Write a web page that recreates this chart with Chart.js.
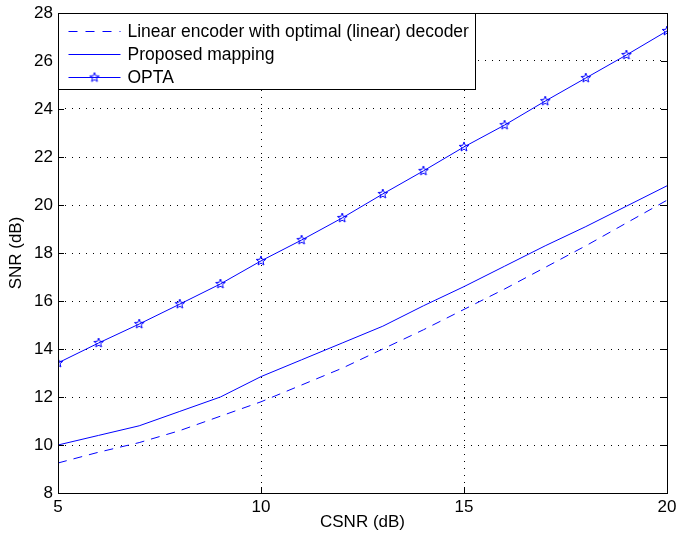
<!DOCTYPE html>
<html>
<head>
<meta charset="utf-8">
<script src="https://cdn.jsdelivr.net/npm/chart.js@4/dist/chart.umd.min.js"></script>
<style>
  html, body { margin: 0; padding: 0; background: #fff; }
  #wrap { width: 677px; height: 539px; }
</style>
</head>
<body>
<div id="wrap"><canvas id="snrChart" width="677" height="539"></canvas></div>
<script>
// values
var csnr = [5, 6, 7, 8, 9, 10, 11, 12, 13, 14, 15, 16, 17, 18, 19, 20];
var linearSnr = [9.25, 9.7, 10.1, 10.6, 11.2, 11.8, 12.5, 13.2, 14.0, 14.8, 15.65, 16.5, 17.4, 18.3, 19.25, 20.2];
var proposedSnr = [10.0, 10.4, 10.8, 11.4, 12.0, 12.85, 13.55, 14.25, 14.95, 15.8, 16.6, 17.45, 18.3, 19.1, 19.95, 20.8];
var optaSnr = [13.42, 14.25, 15.04, 15.87, 16.71, 17.67, 18.54, 19.46, 20.46, 21.42, 22.42, 23.33, 24.33, 25.29, 26.25, 27.25];
var seriesNames = ['Linear encoder with optimal (linear) decoder', 'Proposed mapping', 'OPTA'];
var xTicks = [5, 10, 15, 20];
var yTicks = [8, 10, 12, 14, 16, 18, 20, 22, 24, 26, 28];

var FONT = '"Liberation Sans", Arial, Helvetica, sans-serif';
var BLUE = '#0000ff';

// matlab style pentagram marker
function makeStar(r) {
	var c = document.createElement('canvas');
	var s = Math.ceil(r * 2 + 4);
	c.width = s; c.height = s;
	var g = c.getContext('2d');
	g.strokeStyle = BLUE;
	g.lineWidth = 1;
	g.beginPath();
	for (var i = 0; i < 10; i++) {
		var rr = (i % 2 === 0) ? r : r * 0.42;
		var a = -Math.PI / 2 + i * Math.PI / 5;
		var px = s / 2 + rr * Math.cos(a), py = s / 2 + rr * Math.sin(a);
		if (i === 0) g.moveTo(px, py); else g.lineTo(px, py);
	}
	g.closePath();
	g.stroke();
	return c;
}
var star = makeStar(5);

function pts(ys) {
	return csnr.map(function (x, i) { return {x: x, y: ys[i]}; });
}

var frame = {
	id: 'frame',
	afterDraw: function (chart) {
		var ctx = chart.ctx, a = chart.chartArea;
		var xs = chart.scales.x, ys = chart.scales.y;
		ctx.save();
		ctx.strokeStyle = '#000';
		ctx.lineWidth = 1;
		ctx.setLineDash([]);
		// inward ticks
		ctx.beginPath();
		xTicks.forEach(function (v) {
			var px = Math.round(xs.getPixelForValue(v)) + 0.5;
			ctx.moveTo(px, a.bottom); ctx.lineTo(px, a.bottom - 6);
			ctx.moveTo(px, a.top); ctx.lineTo(px, a.top + 6);
		});
		yTicks.forEach(function (v) {
			var py = Math.round(ys.getPixelForValue(v)) + 0.5;
			ctx.moveTo(a.left, py); ctx.lineTo(a.left + 6, py);
			ctx.moveTo(a.right, py); ctx.lineTo(a.right - 6, py);
		});
		ctx.stroke();
		ctx.strokeRect(Math.round(a.left) + 0.5, Math.round(a.top) + 0.5, Math.round(a.right - a.left), Math.round(a.bottom - a.top));

		// legend box, top left inside the axes
		var bx = Math.round(a.left) + 0.5, by = Math.round(a.top) + 0.5, bw = 417, bh = 76;
		ctx.fillStyle = '#fff';
		ctx.fillRect(bx, by, bw, bh);
		ctx.strokeRect(bx, by, bw, bh);
		var rows = [by + 18, by + 41, by + 64];
		ctx.font = '17.5px ' + FONT;
		ctx.textBaseline = 'middle';
		for (var i = 0; i < 3; i++) {
			ctx.strokeStyle = BLUE;
			ctx.setLineDash(i === 0 ? [9, 8] : []);
			ctx.beginPath();
			ctx.moveTo(bx + 10, rows[i]); ctx.lineTo(bx + 62, rows[i]);
			ctx.stroke();
			ctx.fillStyle = '#000';
			ctx.fillText(seriesNames[i], bx + 69, rows[i] + 1);
		}
		ctx.setLineDash([]);
		ctx.drawImage(star, bx + 36 - star.width / 2, rows[2] - star.height / 2);
		ctx.restore();
	}
};

var ctx = document.getElementById('snrChart').getContext('2d');
var snrChart = new Chart(ctx, {
	type: 'line',
	data: {
		datasets: [{
			label: seriesNames[0],
			data: pts(linearSnr),
			borderColor: BLUE,
			borderWidth: 1,
			borderDash: [9, 7],
			pointRadius: 0,
			fill: false
		}, {
			label: seriesNames[1],
			data: pts(proposedSnr),
			borderColor: BLUE,
			borderWidth: 1,
			pointRadius: 0,
			fill: false
		}, {
			label: seriesNames[2],
			data: pts(optaSnr),
			borderColor: BLUE,
			borderWidth: 1,
			pointStyle: star,
			pointRadius: 5,
			fill: false
		}]
	},
	options: {
		responsive: false,
		animation: false,
		events: [],
		layout: {padding: {top: 13, right: 10, left: 0, bottom: 0}},
		plugins: {legend: {display: false}, tooltip: {enabled: false}},
		scales: {
			x: {
				type: 'linear',
				min: 5, max: 20,
				afterFit: function (s) { s.height = 46; s.paddingLeft = 0; s.paddingRight = 0; },
				afterBuildTicks: function (s) { s.ticks = xTicks.map(function (v) { return {value: v}; }); },
				grid: {color: '#000', lineWidth: 1, drawTicks: false},
				border: {display: false, dash: [1, 6]},
				ticks: {color: '#000', font: {family: FONT, size: 17}, padding: 4, maxRotation: 0},
				title: {display: true, text: 'CSNR (dB)', color: '#000', font: {family: FONT, size: 17}, padding: {top: 0, bottom: 6}}
			},
			y: {
				type: 'linear',
				min: 8, max: 28,
				afterFit: function (s) { s.width = 58; s.paddingTop = 0; s.paddingBottom = 0; },
				afterBuildTicks: function (s) { s.ticks = yTicks.map(function (v) { return {value: v}; }); },
				grid: {color: '#000', lineWidth: 1, drawTicks: false},
				border: {display: false, dash: [1, 6]},
				ticks: {color: '#000', font: {family: FONT, size: 17}, padding: 5},
				title: {display: true, text: 'SNR (dB)', color: '#000', font: {family: FONT, size: 17}, padding: {top: 6, bottom: 0}}
			}
		}
	},
	plugins: [frame]
});
</script>
</body>
</html>
